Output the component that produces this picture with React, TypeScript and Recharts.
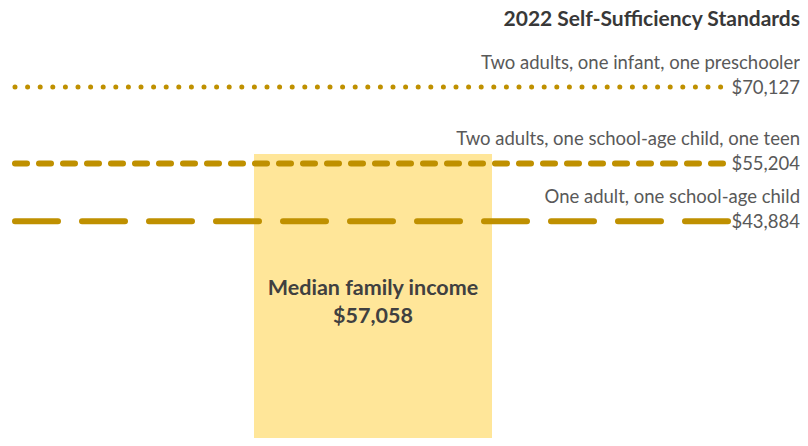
import React from "react";
import { BarChart, Bar, XAxis, YAxis, ReferenceLine, LabelList } from "recharts";

// Median family income (bar)
const categories = ["Median family income"];
const incomeValues = [57058];

// 2022 Self-Sufficiency Standards (reference lines)
const standardNames = [
  "Two adults, one infant, one preschooler",
  "Two adults, one school-age child, one teen",
  "One adult, one school-age child",
];
const standardValues = [70127, 55204, 43884];

const chartTitle = "2022 Self-Sufficiency Standards";

const data = categories.map((name, i) => ({ name, value: incomeValues[i] }));

const GOLD = "#BF9000";
const LINE_STYLES = [
  { dash: "0 12.6", width: 5 },
  { dash: "12 12", width: 6 },
  { dash: "43 24", width: 6 },
];
const FONT = "Lato, 'Open Sans', sans-serif";
const fmt = (v: number) => "$" + v.toLocaleString("en-US");

const BarText = (props: any) => {
  const { x, y, width, height, value } = props;
  const cx = x + width / 2;
  const cy = y + height / 2;
  return (
    <g fontFamily={FONT} fontWeight={700} fontSize={21.5} fill="#404040" textAnchor="middle">
      <text x={cx} y={cy - 13} dominantBaseline="central">{categories[0]}</text>
      <text x={cx} y={cy + 15} dominantBaseline="central">{fmt(value)}</text>
    </g>
  );
};

const lineLabel = (i: number) => (props: any) => {
  const vb = props.viewBox || {};
  const right = 800;
  return (
    <g fontFamily={FONT} fontSize={18.5} fill="#595959" textAnchor="end">
      <text x={right} y={vb.y - 25} dominantBaseline="central">{standardNames[i]}</text>
      <text x={right} y={vb.y} dominantBaseline="central">{fmt(standardValues[i])}</text>
    </g>
  );
};

export default function App() {
  return (
    <div style={{ position: "relative", width: 808, height: 446, margin: -8, background: "#fff" }}>
      <div
        style={{
          position: "absolute",
          top: 5,
          right: 8,
          fontFamily: FONT,
          fontWeight: 700,
          fontSize: 21,
          lineHeight: "26px",
          color: "#383838",
        }}
      >
        {chartTitle}
      </div>
      <BarChart width={808} height={446} data={data} margin={{ top: 0, right: 78, bottom: 0, left: 15 }}>
        <XAxis dataKey="name" hide />
        <YAxis hide domain={[0, 87120]} allowDataOverflow />
        <Bar dataKey="value" fill="#FFE699" barSize={238} isAnimationActive={false}>
          <LabelList dataKey="value" content={BarText} />
        </Bar>
        {standardValues.map((v, i) => (
          <ReferenceLine
            key={i}
            y={v}
            stroke={GOLD}
            strokeWidth={LINE_STYLES[i].width}
            strokeDasharray={LINE_STYLES[i].dash}
            strokeLinecap="round"
            label={lineLabel(i)}
          />
        ))}
      </BarChart>
    </div>
  );
}
